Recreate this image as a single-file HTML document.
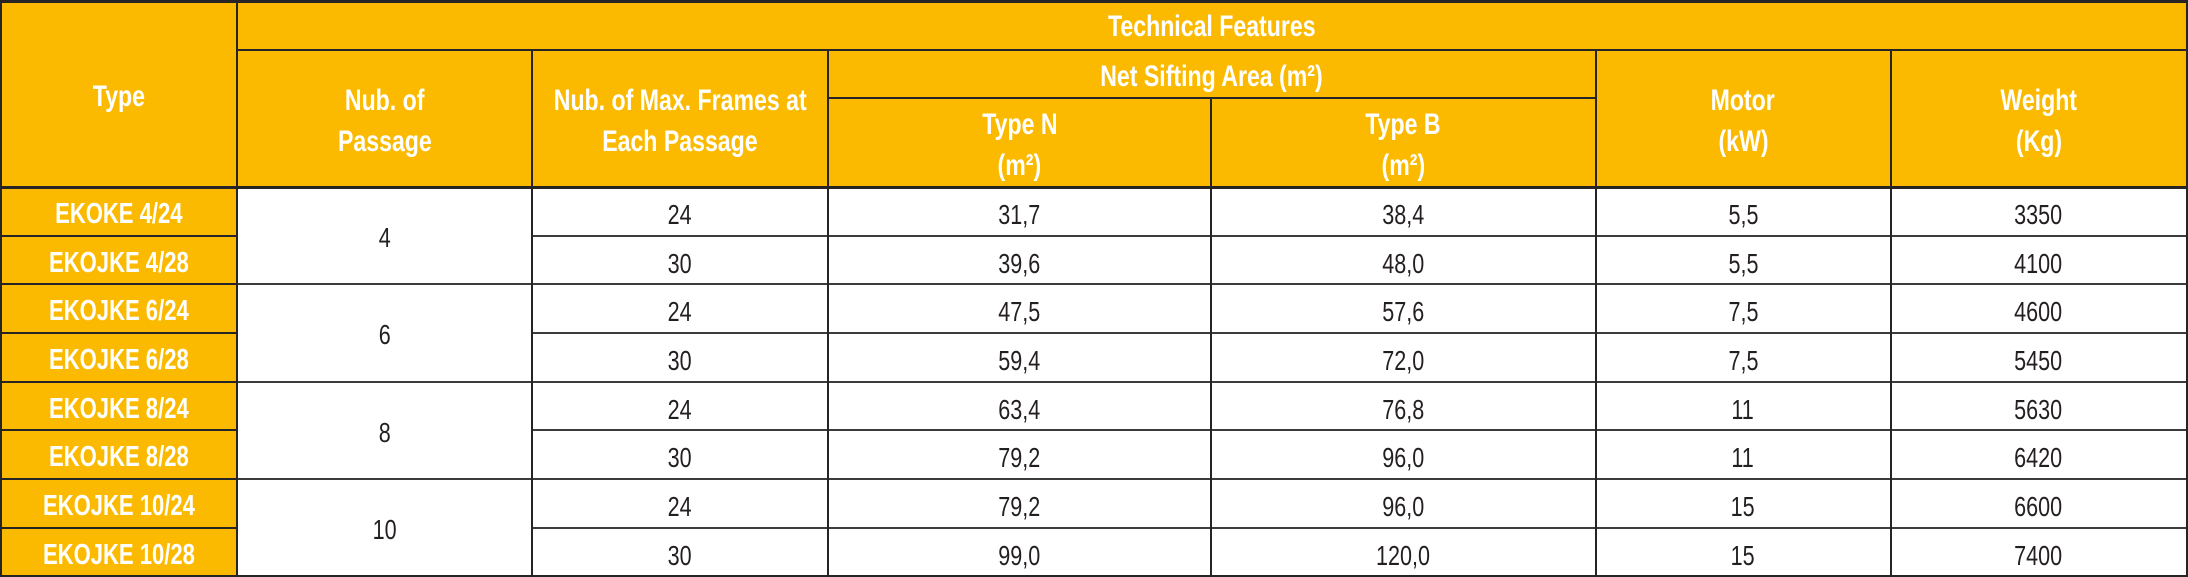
<!DOCTYPE html>
<html>
<head>
<meta charset="utf-8">
<style>
  html,body{margin:0;padding:0;}
  body{width:2188px;height:577px;position:relative;overflow:hidden;background:#fff;}
  .y{position:absolute;background:#fbba00;}
  .l{position:absolute;background:#262424;}
  .g{position:absolute;background:#3c3c3c;}
  .t{position:absolute;width:600px;text-align:center;line-height:1;white-space:nowrap;}
  .t span{display:inline-block;transform:scaleX(.77);transform-origin:50% 50%;}
  .h{font-family:"Liberation Sans",sans-serif;font-weight:bold;font-size:30px;color:#fff;}
  .n{font-family:"Liberation Sans",sans-serif;font-weight:bold;font-size:29px;color:#fff;}
  .n span{transform:scaleX(.76);}
  .d{font-family:"Liberation Sans",sans-serif;font-weight:normal;font-size:28px;color:#231f20;}
</style>
</head>
<body>
<!-- yellow fills -->
<div class="y" style="left:0;top:0;width:2188px;height:187px;"></div>
<div class="y" style="left:0;top:187px;width:237px;height:390px;"></div>

<!-- horizontal lines -->
<div class="l" style="left:0;top:0;width:2188px;height:2.5px;"></div>
<div class="l" style="left:236px;top:48.5px;width:1952px;height:2px;"></div>
<div class="l" style="left:828px;top:97px;width:767px;height:2px;"></div>
<div class="l" style="left:0;top:186px;width:2188px;height:2.5px;"></div>

<!-- data row lines: name column -->
<div class="l" style="left:0;top:234.5px;width:237px;height:2px;"></div>
<div class="l" style="left:0;top:283px;width:237px;height:2px;"></div>
<div class="l" style="left:0;top:332px;width:237px;height:2px;"></div>
<div class="l" style="left:0;top:380.5px;width:237px;height:2px;"></div>
<div class="l" style="left:0;top:429px;width:237px;height:2px;"></div>
<div class="l" style="left:0;top:478px;width:237px;height:2px;"></div>
<div class="l" style="left:0;top:526.5px;width:237px;height:2px;"></div>

<!-- data row lines: passage pair boundaries -->
<div class="g" style="left:237px;top:283px;width:295px;height:2px;"></div>
<div class="g" style="left:237px;top:380.5px;width:295px;height:2px;"></div>
<div class="g" style="left:237px;top:478px;width:295px;height:2px;"></div>

<!-- data row lines: rest -->
<div class="g" style="left:532px;top:234.5px;width:1656px;height:2px;"></div>
<div class="g" style="left:532px;top:283px;width:1656px;height:2px;"></div>
<div class="g" style="left:532px;top:332px;width:1656px;height:2px;"></div>
<div class="g" style="left:532px;top:380.5px;width:1656px;height:2px;"></div>
<div class="g" style="left:532px;top:429px;width:1656px;height:2px;"></div>
<div class="g" style="left:532px;top:478px;width:1656px;height:2px;"></div>
<div class="g" style="left:532px;top:526.5px;width:1656px;height:2px;"></div>

<!-- bottom border -->
<div class="l" style="left:0;top:574.5px;width:2188px;height:2.5px;"></div>

<!-- vertical lines -->
<div class="l" style="left:0;top:0;width:2px;height:577px;"></div>
<div class="l" style="left:235.5px;top:0;width:2px;height:577px;"></div>
<div class="l" style="left:531px;top:49px;width:2px;height:528px;"></div>
<div class="l" style="left:827px;top:49px;width:2px;height:528px;"></div>
<div class="l" style="left:1210px;top:98px;width:2px;height:479px;"></div>
<div class="l" style="left:1594.5px;top:49px;width:2px;height:528px;"></div>
<div class="l" style="left:1890px;top:49px;width:2px;height:528px;"></div>
<div class="l" style="left:2185.5px;top:0;width:2.5px;height:577px;"></div>

<!-- header texts -->
<div class="t h" style="left:-181.5px;top:81.6px;"><span>Type</span></div>
<div class="t h" style="left:911.5px;top:11.6px;"><span>Technical Features</span></div>

<div class="t h" style="left:84.5px;top:85.6px;"><span>Nub. of</span></div>
<div class="t h" style="left:84.5px;top:126.6px;"><span>Passage</span></div>

<div class="t h" style="left:380px;top:85.6px;"><span>Nub. of Max. Frames at</span></div>
<div class="t h" style="left:380px;top:126.6px;"><span>Each Passage</span></div>

<div class="t h" style="left:911.5px;top:61.9px;"><span>Net Sifting Area (m²)</span></div>

<div class="t h" style="left:719.5px;top:109.6px;"><span>Type N</span></div>
<div class="t h" style="left:719.5px;top:150.6px;"><span>(m²)</span></div>

<div class="t h" style="left:1103px;top:109.6px;"><span>Type B</span></div>
<div class="t h" style="left:1103px;top:150.6px;"><span>(m²)</span></div>

<div class="t h" style="left:1443px;top:85.6px;"><span>Motor</span></div>
<div class="t h" style="left:1443px;top:126.6px;"><span>(kW)</span></div>

<div class="t h" style="left:1738.5px;top:85.6px;"><span>Weight</span></div>
<div class="t h" style="left:1738.5px;top:126.6px;"><span>(Kg)</span></div>

<!-- name column -->
<div class="t n" style="left:-181px;top:200.2px;"><span>EKOKE 4/24</span></div>
<div class="t n" style="left:-181px;top:248.7px;"><span>EKOJKE 4/28</span></div>
<div class="t n" style="left:-181px;top:297.2px;"><span>EKOJKE 6/24</span></div>
<div class="t n" style="left:-181px;top:346.2px;"><span>EKOJKE 6/28</span></div>
<div class="t n" style="left:-181px;top:394.7px;"><span>EKOJKE 8/24</span></div>
<div class="t n" style="left:-181px;top:443.2px;"><span>EKOJKE 8/28</span></div>
<div class="t n" style="left:-181px;top:492.2px;"><span>EKOJKE 10/24</span></div>
<div class="t n" style="left:-181px;top:540.7px;"><span>EKOJKE 10/28</span></div>

<!-- passage numbers -->
<div class="t d" style="left:84.5px;top:224.3px;"><span>4</span></div>
<div class="t d" style="left:84.5px;top:321.3px;"><span>6</span></div>
<div class="t d" style="left:84.5px;top:419.3px;"><span>8</span></div>
<div class="t d" style="left:84.5px;top:516.3px;"><span>10</span></div>

<!-- frames column -->
<div class="t d" style="left:380px;top:201px;"><span>24</span></div>
<div class="t d" style="left:380px;top:249.5px;"><span>30</span></div>
<div class="t d" style="left:380px;top:298px;"><span>24</span></div>
<div class="t d" style="left:380px;top:347px;"><span>30</span></div>
<div class="t d" style="left:380px;top:395.5px;"><span>24</span></div>
<div class="t d" style="left:380px;top:444px;"><span>30</span></div>
<div class="t d" style="left:380px;top:493px;"><span>24</span></div>
<div class="t d" style="left:380px;top:541.5px;"><span>30</span></div>

<!-- Type N -->
<div class="t d" style="left:719.5px;top:201px;"><span>31,7</span></div>
<div class="t d" style="left:719.5px;top:249.5px;"><span>39,6</span></div>
<div class="t d" style="left:719.5px;top:298px;"><span>47,5</span></div>
<div class="t d" style="left:719.5px;top:347px;"><span>59,4</span></div>
<div class="t d" style="left:719.5px;top:395.5px;"><span>63,4</span></div>
<div class="t d" style="left:719.5px;top:444px;"><span>79,2</span></div>
<div class="t d" style="left:719.5px;top:493px;"><span>79,2</span></div>
<div class="t d" style="left:719.5px;top:541.5px;"><span>99,0</span></div>

<!-- Type B -->
<div class="t d" style="left:1103px;top:201px;"><span>38,4</span></div>
<div class="t d" style="left:1103px;top:249.5px;"><span>48,0</span></div>
<div class="t d" style="left:1103px;top:298px;"><span>57,6</span></div>
<div class="t d" style="left:1103px;top:347px;"><span>72,0</span></div>
<div class="t d" style="left:1103px;top:395.5px;"><span>76,8</span></div>
<div class="t d" style="left:1103px;top:444px;"><span>96,0</span></div>
<div class="t d" style="left:1103px;top:493px;"><span>96,0</span></div>
<div class="t d" style="left:1103px;top:541.5px;"><span>120,0</span></div>

<!-- Motor -->
<div class="t d" style="left:1443px;top:201px;"><span>5,5</span></div>
<div class="t d" style="left:1443px;top:249.5px;"><span>5,5</span></div>
<div class="t d" style="left:1443px;top:298px;"><span>7,5</span></div>
<div class="t d" style="left:1443px;top:347px;"><span>7,5</span></div>
<div class="t d" style="left:1443px;top:395.5px;"><span>11</span></div>
<div class="t d" style="left:1443px;top:444px;"><span>11</span></div>
<div class="t d" style="left:1443px;top:493px;"><span>15</span></div>
<div class="t d" style="left:1443px;top:541.5px;"><span>15</span></div>

<!-- Weight -->
<div class="t d" style="left:1738.5px;top:201px;"><span>3350</span></div>
<div class="t d" style="left:1738.5px;top:249.5px;"><span>4100</span></div>
<div class="t d" style="left:1738.5px;top:298px;"><span>4600</span></div>
<div class="t d" style="left:1738.5px;top:347px;"><span>5450</span></div>
<div class="t d" style="left:1738.5px;top:395.5px;"><span>5630</span></div>
<div class="t d" style="left:1738.5px;top:444px;"><span>6420</span></div>
<div class="t d" style="left:1738.5px;top:493px;"><span>6600</span></div>
<div class="t d" style="left:1738.5px;top:541.5px;"><span>7400</span></div>
</body>
</html>
